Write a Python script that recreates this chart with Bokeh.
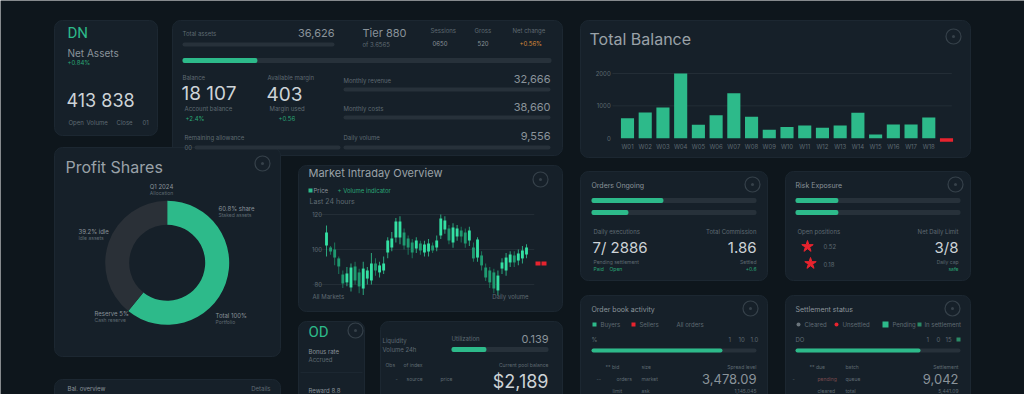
import math
from bokeh.plotting import figure
from bokeh.models import Range1d
from bokeh.embed import file_html
from bokeh.resources import INLINE
from bokeh.core.properties import value

# ---------------- data ----------------
bar_labels = ["W01", "W02", "W03", "W04", "W05", "W06", "W07", "W08", "W09",
              "W10", "W11", "W12", "W13", "W14", "W15", "W16", "W17", "W18", "W19"]
bar_values = [620, 795, 950, 2000, 415, 710, 1390, 660, 260, 350, 390, 320, 390, 785, 115, 425, 425, 640, -110]
bar_ticks = [0, 1000, 2000]
bar_tick_labels = ["0", "1000", "2000"]

donut_labels = ["Staked", "Idle"]
donut_values = [60.8, 39.2]

candle_open = [102.3, 101.1, 100.0, 94.9, 85.7, 81.2, 78.3, 90.3, 86.9, 77.7, 83.4, 82.3, 92.0, 86.9, 88.0,
               98.3, 101.1, 106.9, 106.9, 109.7, 106.3, 104.0, 100.6, 103.4, 98.3, 98.9, 102.3, 101.1, 108.0,
               111.4, 112.0, 104.0, 107.4, 110.9, 109.7, 105.1, 101.1, 95.4, 96.6, 89.7, 88.0, 86.9, 76.6,
               89.1, 88.0, 92.6, 96.6, 93.7, 94.9, 97.1]
candle_close = [109.7, 98.9, 95.4, 90.3, 80.6, 86.3, 89.7, 82.3, 78.9, 89.1, 88.0, 92.0, 88.0, 90.9, 92.0,
                105.1, 106.3, 116.0, 116.0, 102.3, 101.1, 98.3, 105.1, 99.4, 102.9, 103.4, 99.4, 105.1, 117.7,
                116.6, 105.1, 112.6, 112.0, 107.4, 103.4, 110.9, 94.9, 105.7, 90.9, 84.0, 81.2, 77.7, 85.1,
                92.6, 95.4, 97.1, 92.6, 97.7, 99.4, 101.1]
candle_high = [113.7, 102, 104, 96, 88, 90, 92, 93, 89, 93, 90, 98, 95, 93, 96, 107, 110, 118, 119, 112, 108,
               106, 107, 105, 105, 106, 104, 108, 120, 119, 114, 115, 114, 113, 112, 113, 104, 107, 99, 92, 90,
               89, 88, 95, 98, 99, 99, 100, 102, 103]
candle_low = [96, 97, 91, 86, 78, 79, 76, 80, 75, 74, 80, 80, 85, 84, 86, 95, 99, 104, 103, 100, 97, 95, 98,
              97, 96, 96, 98, 99, 106, 109, 103, 101, 105, 104, 101, 102, 93, 93, 88, 82, 78, 75, 74, 86, 85,
              90, 90, 91, 92, 95]
candle_ticks = [80, 100, 120]
candle_tick_labels = ["80", "100", "120"]

progress_main = 0.203
progress_orders = [0.436, 0.224]
progress_risk = [0.26, 0.26]
progress_book = 0.794
progress_settle = 0.758
progress_liquidity = 0.36

# ---------------- style ----------------
BG = "#0e161c"
CARD = "#162029"
EDGE = "#1c2731"
TRACK = "#27313a"
GREEN = "#2dba8a"
GREEN_TXT = "#2aa676"
MUTED = "#5f6a72"
LABEL = "#8a939a"
TITLE = "#9aa2a8"
BRIGHT = "#cdd3d7"
RED = "#e8232e"
ORANGE = "#d98b3a"
GRID = "#232d36"
FONT = "Inter"

W, H = 1024, 394
X0, X1, Y0, Y1 = 0, W, 0, H

p = figure(width=W, height=H, x_range=Range1d(X0, X1), y_range=Range1d(Y1, Y0),
           x_axis_type=None, y_axis_type=None, toolbar_location=None, output_backend="svg",
           min_border=0, background_fill_color=BG, border_fill_color=BG, outline_line_color=None)


def xr(d0, p0, d1, p1):
    s = (d1 - d0) / (p1 - p0)
    return Range1d(d0 + (X0 - p0) * s, d0 + (X1 - p0) * s)


def yr(d0, p0, d1, p1):
    s = (d1 - d0) / (p1 - p0)
    return Range1d(d0 + (Y1 - p0) * s, d0 + (Y0 - p0) * s)


def T(x, y, s, size=6, color=MUTED, align="left", font=FONT, style="normal"):
    p.text(x=[x], y=[y], text=[s], text_font=value(font), text_font_size=f"{size}px",
           text_color=color, text_align=align, text_baseline="middle", text_font_style=style)


def card(l, t, r, b):
    p.quad(left=[l], right=[r], top=[t], bottom=[b], fill_color=CARD, line_color=EDGE,
           line_width=1, border_radius=8)


def icon(x, y):
    p.scatter(x=[x], y=[y], size=15, marker="circle", fill_color=None, line_color="#36414a", line_width=1.2)
    p.scatter(x=[x], y=[y], size=3, marker="circle", fill_color="#36414a", line_color=None)


def track(x0, x1, y, h=4, frac=None, color=GREEN):
    r = int(h // 2)
    p.quad(left=[x0], right=[x1], top=[y - h / 2], bottom=[y + h / 2], fill_color=TRACK,
           line_color=None, border_radius=r)
    if frac:
        name = f"pb{len(p.extra_x_ranges)}"
        p.extra_x_ranges[name] = xr(0, x0, 1, x1)
        p.hbar(y=[y], left=[0], right=[frac], height=h, fill_color=color, line_color=None,
               x_range_name=name, border_radius=r)


# ---------------- cards ----------------
card(54, 20, 157, 135)
card(172, 20, 562, 155)
card(580, 20, 970, 157)
card(54, 147, 280, 356)
card(298, 165, 562, 311)
card(580, 171, 767, 280)
card(785, 171, 970, 280)
card(580, 295, 767, 410)
card(785, 295, 970, 410)
card(298, 321, 364, 410)
card(380, 321, 562, 410)
card(54, 379, 280, 410)

# ---------------- card 1 ----------------
T(67, 32, "DN", 15, GREEN, font="Roboto")
T(67, 52, "Net Assets", 10, LABEL)
T(67, 62, "+0.84%", 6, GREEN_TXT)
T(66, 100, "413 838", 18, BRIGHT)
T(68, 122, "Open", 6)
T(86, 122, "Volume", 6)
T(116, 122, "Close", 6)
T(142, 122, "01", 6)

# ---------------- top wide card ----------------
T(182, 33, "Total assets", 6)
track(182, 334, 44, 4)
T(334, 32, "36,626", 11, LABEL, "right")
T(362, 32, "Tier 880", 11, LABEL)
T(362, 44, "of 3.6565", 6)
T(430, 30, "Sessions", 6)
T(432, 43, "0650", 6, LABEL)
T(474, 30, "Gross", 6)
T(477, 43, "520", 6, LABEL)
T(512, 30, "Net change", 6)
T(519, 43, "+0.56%", 6, ORANGE)
track(182, 551, 60, 5, progress_main)
T(182, 77, "Balance", 6)
T(181, 93, "18 107", 19, BRIGHT)
T(184, 108, "Account balance", 6)
T(185, 118, "+2.4%", 6, GREEN_TXT)
T(267, 77, "Available margin", 6)
T(266, 93, "403", 19, BRIGHT)
T(269, 108, "Margin used", 6)
T(278, 118, "+0.56", 6, GREEN_TXT)
T(343, 80, "Monthly revenue", 6)
T(550, 78, "32,666", 11, LABEL, "right")
track(343, 550, 89, 4)
T(343, 108, "Monthly costs", 6)
T(550, 106, "38,660", 11, LABEL, "right")
track(343, 550, 117, 4)
T(343, 137, "Daily volume", 6)
T(550, 135, "9,556", 11, LABEL, "right")
track(343, 550, 147, 4)
T(184, 137, "Remaining allowance", 6)
T(184, 147, "00", 6)
track(194, 340, 147, 4)

# ---------------- bar chart ----------------
T(589, 38, "Total Balance", 16, TITLE)
icon(953, 36)
p.extra_x_ranges["bx"] = xr(0, 627, 18, 946)
p.extra_y_ranges["by"] = yr(0, 137.7, 2000, 73)
bx = list(range(len(bar_values)))
p.segment(x0=[-0.85] * len(bar_ticks[1:]), x1=[18.3] * len(bar_ticks[1:]), y0=bar_ticks[1:], y1=bar_ticks[1:],
          line_color=GRID, line_width=1, x_range_name="bx", y_range_name="by")
p.text(x=[-0.95] * len(bar_ticks), y=bar_ticks, text=bar_tick_labels, text_font=value(FONT),
       text_font_size="6px", text_color=MUTED, text_align="right", text_baseline="middle",
       x_range_name="bx", y_range_name="by")
p.vbar(x=bx, top=bar_values, bottom=0, width=0.74,
       fill_color=[GREEN if v >= 0 else RED for v in bar_values], line_color=None,
       x_range_name="bx", y_range_name="by")
pos = [i for i, v in enumerate(bar_values) if v >= 0]
p.text(x=pos, y=[146] * len(pos), text=[bar_labels[i] for i in pos], text_font=value(FONT),
       text_font_size="6px", text_color=MUTED, text_align="center", text_baseline="middle",
       x_range_name="bx")

# ---------------- donut ----------------
T(65, 166, "Profit Shares", 16, TITLE)
icon(262, 163)
tot = sum(donut_values)
cum = [0]
for v in donut_values:
    cum.append(cum[-1] + v / tot)
starts = [math.pi / 2 - c * 2 * math.pi for c in cum[:-1]]
ends = [math.pi / 2 - c * 2 * math.pi for c in cum[1:]]
p.annular_wedge(x=[166.7] * len(donut_values), y=[262.3] * len(donut_values), inner_radius=38,
                outer_radius=62, start_angle=starts, end_angle=ends, direction="clock",
                fill_color=[GREEN, "#2a3037"], line_color=None)
T(161, 186, "Q1 2024", 6, LABEL, "center")
T(161, 192, "Allocation", 5, MUTED, "center")
T(218, 208, "60.8% share", 6, LABEL)
T(218, 214, "Staked assets", 5)
T(78, 231, "39.2% idle", 6, LABEL)
T(78, 237, "Idle assets", 5)
T(94, 313, "Reserve 5%", 6, LABEL)
T(94, 319, "Cash reserve", 5)
T(215, 315, "Total 100%", 6, LABEL)
T(215, 321, "Portfolio", 5)

# ---------------- candlestick ----------------
T(308, 172, "Market Intraday Overview", 11, TITLE)
icon(540, 179)
p.scatter(x=[310], y=[190], marker="square", size=4, fill_color=GREEN, line_color=None)
T(313, 190, "Price", 6, LABEL)
T(337, 190, "+ Volume indicator", 6, GREEN_TXT)
T(309, 201, "Last 24 hours", 7)
p.extra_x_ranges["cx"] = xr(0, 326, 49, 526)
p.extra_y_ranges["cy"] = yr(100, 249, 120, 214)
n = len(candle_open)
p.segment(x0=[-3.4] * len(candle_ticks), x1=[50.9] * len(candle_ticks), y0=candle_ticks, y1=candle_ticks,
          line_color=GRID, x_range_name="cx", y_range_name="cy")
p.text(x=[-1.1] * len(candle_ticks), y=candle_ticks, text=candle_tick_labels, text_font=value(FONT),
       text_font_size="6px", text_color=MUTED, text_align="right", text_baseline="middle",
       x_range_name="cx", y_range_name="cy")
ccol = ["#34e0a3" if c >= o else "#1f9a70" for o, c in zip(candle_open, candle_close)]
p.segment(x0=list(range(n)), x1=list(range(n)), y0=candle_low, y1=candle_high, line_color=ccol,
          line_width=1, line_alpha=0.7, x_range_name="cx", y_range_name="cy")
p.vbar(x=list(range(n)), top=[max(o, c) for o, c in zip(candle_open, candle_close)],
       bottom=[min(o, c) for o, c in zip(candle_open, candle_close)], width=0.7,
       fill_color=ccol, line_color=None, x_range_name="cx", y_range_name="cy")
p.quad(left=[535, 541], right=[540, 546], top=[261, 261], bottom=[265, 265], fill_color=RED, line_color=None)
T(312, 296, "All Markets", 6)
T(528, 296, "Daily volume", 6, MUTED, "right")

# ---------------- card A ----------------
T(591, 185, "Orders Ongoing", 7, LABEL)
icon(752, 184)
track(591, 756, 200, 5, progress_orders[0])
track(591, 756, 212, 5, progress_orders[1])
T(593, 231, "Daily executions", 6)
T(756, 231, "Total Commission", 6, MUTED, "right")
T(592, 247, "7/ 2886", 15, BRIGHT)
T(756, 247, "1.86", 15, BRIGHT, "right")
T(593, 261, "Pending settlement", 5)
T(593, 268, "Paid", 5, GREEN_TXT)
T(609, 268, "Open", 5, GREEN_TXT)
T(756, 261, "Settled", 5, MUTED, "right")
T(756, 268, "+0.6", 5, GREEN_TXT, "right")

# ---------------- card B ----------------
T(795, 185, "Risk Exposure", 7, LABEL)
icon(955, 184)
track(795, 960, 200, 5, progress_risk[0])
track(795, 960, 212, 5, progress_risk[1])
T(797, 231, "Open positions", 6)
T(958, 231, "Net Daily Limit", 6, MUTED, "right")
p.scatter(x=[807, 810], y=[246, 263], marker="star", size=12, fill_color=RED, line_color=RED)
T(823, 246, "0.52", 6)
T(823, 264, "0.18", 6)
T(958, 247, "3/8", 15, BRIGHT, "right")
T(958, 261, "Daily cap", 5, MUTED, "right")
T(958, 268, "safe", 5, GREEN_TXT, "right")

# ---------------- card C ----------------
T(591, 309, "Order book activity", 7, LABEL)
icon(750, 308)
p.scatter(x=[594], y=[324], marker="square", size=4, fill_color=GREEN, line_color=None)
T(600, 324, "Buyers", 6)
p.scatter(x=[633], y=[324], marker="square", size=4, fill_color=RED, line_color=None)
T(639, 324, "Sellers", 6)
T(676, 324, "All orders", 6)
T(591, 339, "%", 6)
T(728, 339, "1", 6)
T(738, 339, "10", 6)
T(750, 339, "1.0", 6)
track(591, 756, 350, 4, progress_book)
T(605, 366, "** bid", 5)
T(641, 366, "size", 5)
T(756, 366, "Spread level", 5, MUTED, "right")
T(596, 378, "--", 5)
T(616, 378, "orders", 5)
T(641, 378, "market", 5)
T(756, 378, "3,478.09", 13, LABEL, "right")
T(612, 390, "limit", 5)
T(641, 390, "ask", 5)
T(756, 390, "1,145.045", 5, MUTED, "right")

# ---------------- card D ----------------
T(795, 309, "Settlement status", 7, LABEL)
icon(952, 308)
p.scatter(x=[798], y=[324], marker="circle", size=4, fill_color="#6b757c", line_color=None)
T(804, 324, "Cleared", 6)
p.scatter(x=[836], y=[324], marker="circle", size=4, fill_color=RED, line_color=None)
T(842, 324, "Unsettled", 6)
p.scatter(x=[885], y=[324], marker="square", size=6, fill_color=GREEN, line_color=None)
T(892, 324, "Pending", 6)
p.scatter(x=[919], y=[324], marker="square", size=4, fill_color="#2a8a66", line_color=None)
T(924, 324, "In settlement", 6)
T(795, 339, "DO", 6)
T(926, 339, "1", 6)
T(936, 339, "0", 6)
T(945, 339, "15", 6)
p.scatter(x=[958], y=[339], marker="square", size=4, fill_color="#2a8a66", line_color=None)
track(795, 960, 350, 4, progress_settle)
T(809, 366, "** due", 5)
T(845, 366, "batch", 5)
T(958, 366, "Settlement", 5, MUTED, "right")
T(792, 378, "-", 5)
T(817, 378, "pending", 5, "#7a4a4e")
T(845, 378, "queue", 5)
T(958, 378, "9,042", 13, LABEL, "right")
T(817, 390, "cleared", 5)
T(845, 390, "total", 5)
T(958, 390, "5,441.09", 5, MUTED, "right")

# ---------------- card E ----------------
T(308, 331, "OD", 15, GREEN, font="Roboto")
icon(355, 330)
T(308, 351, "Bonus rate", 6, LABEL)
T(308, 359, "Accrued", 6)
p.segment(x0=[300], x1=[362], y0=[372], y1=[372], line_color=EDGE)
T(308, 390, "Reward 8.8", 6, LABEL)

# ---------------- card F ----------------
T(382, 340, "Liquidity", 6)
T(382, 349, "Volume 24h", 6)
T(451, 338, "Utilization", 6)
T(548, 338, "0.139", 11, LABEL, "right")
track(451, 548, 349, 5, progress_liquidity)
T(385, 364, "Obs", 5)
T(403, 364, "of index", 5)
T(548, 364, "Current pool balance", 5, MUTED, "right")
T(395, 378, "-", 5)
T(406, 378, "source", 5)
T(440, 378, "price", 5)
T(548, 381, "$2,189", 18, BRIGHT, "right")

# ---------------- card G ----------------
T(67, 388, "Bal. overview", 6, LABEL)
T(270, 388, "Details", 6, MUTED, "right")

open("out.html", "w").write(file_html(p, INLINE))
